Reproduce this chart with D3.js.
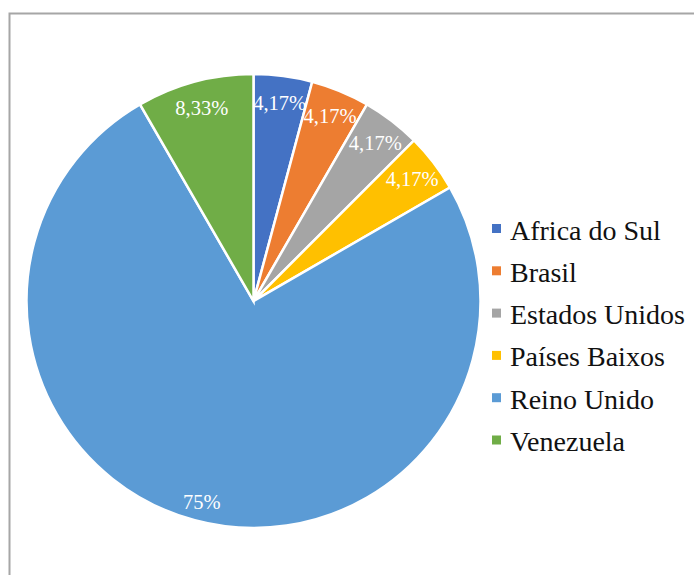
<!DOCTYPE html>
<html lang="pt">
  <head>
    <meta charset="utf-8" />
    <title>Pie chart</title>
    <script src="https://cdnjs.cloudflare.com/ajax/libs/d3/7.8.5/d3.min.js"></script>
    <style type="text/css">
      body { margin: 0; background: #fff; }
    </style>
  </head>

  <body>
    <div id="chart"></div>
    <script>
      const countries = ['Africa do Sul', 'Brasil', 'Estados Unidos', 'Países Baixos', 'Reino Unido', 'Venezuela'];
      const counts = [1, 1, 1, 1, 18, 2];
      const labels = ['4,17%', '4,17%', '4,17%', '4,17%', '75%', '8,33%'];
      const colors = ['#4472C4', '#ED7D31', '#A5A5A5', '#FFC000', '#5B9BD5', '#70AD47'];

      const data = countries.map((c, i) => ({ name: c, value: counts[i], label: labels[i] }));

      const width = 694, height = 575;
      const cx = 253.5, cy = 301, r = 227;
      const serif = "'Liberation Serif'";

      const svg = d3.select('#chart')
        .append('svg')
        .attr('width', width)
        .attr('height', height);

      // chart border (runs off right and bottom)
      svg.append('rect')
        .attr('x', 9.5)
        .attr('y', 13.5)
        .attr('width', 700)
        .attr('height', 600)
        .attr('fill', '#fff')
        .attr('stroke', '#a6a6a6')
        .attr('stroke-width', 2);

      const color = d3.scaleOrdinal().domain(countries).range(colors);

      const pie = d3.pie().value(d => d.value).sort(null);
      const arc = d3.arc().innerRadius(0).outerRadius(r);
      const labelArc = d3.arc().innerRadius(200).outerRadius(200);

      const g = svg.append('g').attr('transform', `translate(${cx},${cy})`);
      const arcs = pie(data);

      g.selectAll('path')
        .data(arcs)
        .join('path')
        .attr('d', arc)
        .attr('fill', d => color(d.data.name))
        .attr('stroke', '#fff')
        .attr('stroke-width', 2.5);

      g.selectAll('text')
        .data(arcs)
        .join('text')
        .attr('transform', d => {
          const [x, y] = labelArc.centroid(d);
          return `translate(${x},${y + (d.data.name === 'Reino Unido' ? 8 : 0)})`;
        })
        .attr('text-anchor', 'middle')
        .attr('dy', '0.35em')
        .attr('fill', '#fff')
        .style('font-family', serif)
        .style('font-size', '20.5px')
        .text(d => d.data.label);

      // legend
      const legend = svg.append('g').attr('transform', 'translate(492,228.5)');
      const row = legend.selectAll('g')
        .data(countries)
        .join('g')
        .attr('transform', (d, i) => `translate(0,${i * 42.3})`);

      row.append('rect')
        .attr('x', 0)
        .attr('y', -4.5)
        .attr('width', 9)
        .attr('height', 9)
        .attr('fill', d => color(d));

      row.append('text')
        .attr('x', 18)
        .attr('y', 11)
        .attr('fill', '#111')
        .style('font-family', serif)
        .style('font-size', '28px')
        .text(d => d);
    </script>
  </body>
</html>
